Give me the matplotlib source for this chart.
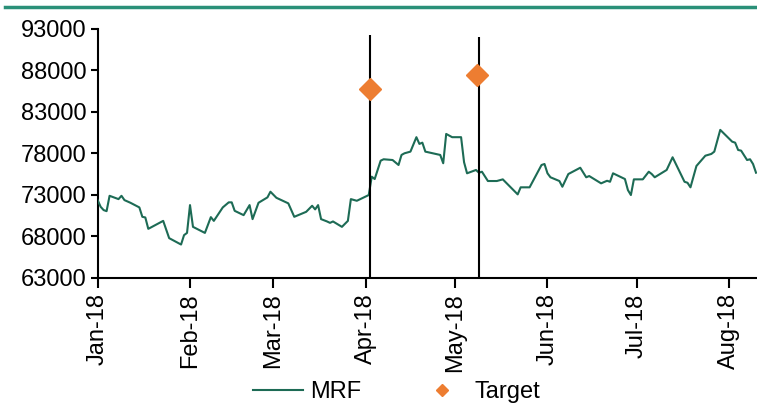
import matplotlib
matplotlib.use("Agg")
import matplotlib.pyplot as plt
import matplotlib.dates as mdates
from matplotlib.lines import Line2D
import pandas as pd

plt.rcParams['font.family'] = ['Liberation Sans', 'DejaVu Sans']

mrf_dates = [
    "2018-01-01", "2018-01-02", "2018-01-03", "2018-01-04", "2018-01-05", "2018-01-08", "2018-01-09", "2018-01-10", "2018-01-12", "2018-01-15",
    "2018-01-16", "2018-01-17", "2018-01-18", "2018-01-23", "2018-01-25", "2018-01-29", "2018-01-30", "2018-01-31", "2018-02-01", "2018-02-02",
    "2018-02-06", "2018-02-08", "2018-02-09", "2018-02-12", "2018-02-14", "2018-02-15", "2018-02-16", "2018-02-19", "2018-02-21", "2018-02-22",
    "2018-02-24", "2018-02-27", "2018-02-28", "2018-03-02", "2018-03-06", "2018-03-08", "2018-03-12", "2018-03-14", "2018-03-15", "2018-03-16",
    "2018-03-17", "2018-03-19", "2018-03-20", "2018-03-21", "2018-03-24", "2018-03-26", "2018-03-27", "2018-03-29", "2018-04-02", "2018-04-03",
    "2018-04-04", "2018-04-06", "2018-04-07", "2018-04-10", "2018-04-12", "2018-04-13", "2018-04-14", "2018-04-16", "2018-04-18", "2018-04-19",
    "2018-04-20", "2018-04-21", "2018-04-25", "2018-04-26", "2018-04-27", "2018-04-28", "2018-04-30", "2018-05-03", "2018-05-04", "2018-05-05",
    "2018-05-08", "2018-05-09", "2018-05-10", "2018-05-12", "2018-05-15", "2018-05-17", "2018-05-22", "2018-05-23", "2018-05-26", "2018-05-30",
    "2018-05-31", "2018-06-01", "2018-06-02", "2018-06-05", "2018-06-06", "2018-06-08", "2018-06-12", "2018-06-14", "2018-06-15", "2018-06-19",
    "2018-06-21", "2018-06-22", "2018-06-23", "2018-06-27", "2018-06-28", "2018-06-29", "2018-06-30", "2018-07-03", "2018-07-05", "2018-07-06",
    "2018-07-07", "2018-07-11", "2018-07-13", "2018-07-17", "2018-07-18", "2018-07-19", "2018-07-21", "2018-07-24", "2018-07-26", "2018-07-27",
    "2018-07-29", "2018-08-02", "2018-08-03", "2018-08-04", "2018-08-05", "2018-08-07", "2018-08-08", "2018-08-09", "2018-08-10",
]
mrf_values = [
    72380, 71575, 71180, 71050, 72900, 72500, 72900, 72380, 72060, 71500,
    70370, 70290, 68920, 69880, 67800, 67030, 68160, 68430, 71780, 69160,
    68430, 70330, 69880, 71500, 72110, 72110, 71090, 70570, 71780, 70090,
    72060, 72710, 73390, 72660, 71990, 70370, 70970, 71700, 71260, 71780,
    70090, 69810, 69640, 69810, 69160, 69880, 72500, 72300, 72990, 75200,
    74920, 77130, 77300, 77210, 76610, 77820, 78020, 78220, 79960, 79150,
    79300, 78220, 77900, 77820, 76820, 80350, 79960, 79960, 76940, 75610,
    76010, 75680, 75800, 74680, 74680, 74880, 73070, 73920, 73920, 76610,
    76730, 75610, 75130, 74680, 73990, 75520, 76280, 75130, 75280, 74400,
    74710, 74590, 75610, 74920, 73590, 72990, 74880, 74880, 75800, 75520,
    75130, 76010, 77540, 74590, 74470, 73920, 76490, 77730, 77940, 78220,
    80840, 79420, 79300, 78420, 78340, 77210, 77300, 76730, 75680,
]

target_dates = ["2018-04-02 14:00", "2018-05-08 12:00"]
target_values = [85800, 87500]

event_dates = ["2018-04-02 14:00", "2018-05-09 00:00"]
event_tops = [92300, 92000]

y_ticks = [63000, 68000, 73000, 78000, 83000, 88000, 93000]
x_tick_dates = ["2018-01-01", "2018-02-01", "2018-03-01", "2018-04-01",
                "2018-05-01", "2018-06-01", "2018-07-01", "2018-08-01"]

GREEN = "#1d6b55"
ORANGE = "#ed7d31"
FS = 17

fig = plt.figure(figsize=(7.57, 4.05), dpi=100)
ax = fig.add_axes([0.129, 0.3136, 0.871, 0.615])

md = pd.to_datetime(mrf_dates)
ax.plot(md, mrf_values, color=GREEN, lw=1.5, zorder=3)

for d, top in zip(pd.to_datetime(event_dates), event_tops):
    ax.vlines(d, y_ticks[0], top, color="black", lw=1.5, zorder=4)

ax.plot(pd.to_datetime(target_dates), target_values, linestyle="none",
        marker="D", ms=11, color=ORANGE, zorder=5)

ax.set_ylim(y_ticks[0], y_ticks[-1])
ax.set_xlim(pd.Timestamp("2018-01-01"), pd.Timestamp("2018-08-10 08:00"))
ax.set_yticks(y_ticks)
ax.set_yticklabels([str(v) for v in y_ticks])
ax.set_xticks(pd.to_datetime(x_tick_dates))
ax.xaxis.set_major_formatter(mdates.DateFormatter("%b-%y"))
for lab in ax.get_xticklabels():
    lab.set_rotation(90)

ax.tick_params(axis="both", labelsize=FS, direction="out", width=1.5, color="black")
ax.tick_params(axis="y", length=5, pad=3)
ax.tick_params(axis="x", length=7, pad=4)
for s in ["top", "right"]:
    ax.spines[s].set_visible(False)
for s in ["left", "bottom"]:
    ax.spines[s].set_linewidth(1.5)
ax.patch.set_alpha(0)

handles = [Line2D([], [], color=GREEN, lw=1.5),
           Line2D([], [], color=ORANGE, marker="D", ms=6, linestyle="none")]
fig.legend(handles, ["MRF", "Target"], loc="center", bbox_to_anchor=(0.524, 0.032),
           ncol=2, frameon=False, fontsize=FS, handlelength=2.1, columnspacing=2.4,
           handletextpad=0.3, borderpad=0.2)

fig.add_artist(Line2D([5 / 757, 1.0], [1 - 7 / 405, 1 - 7 / 405],
                      transform=fig.transFigure, color="#2a9078", lw=2.5))

fig.savefig("out.png", dpi=100)
